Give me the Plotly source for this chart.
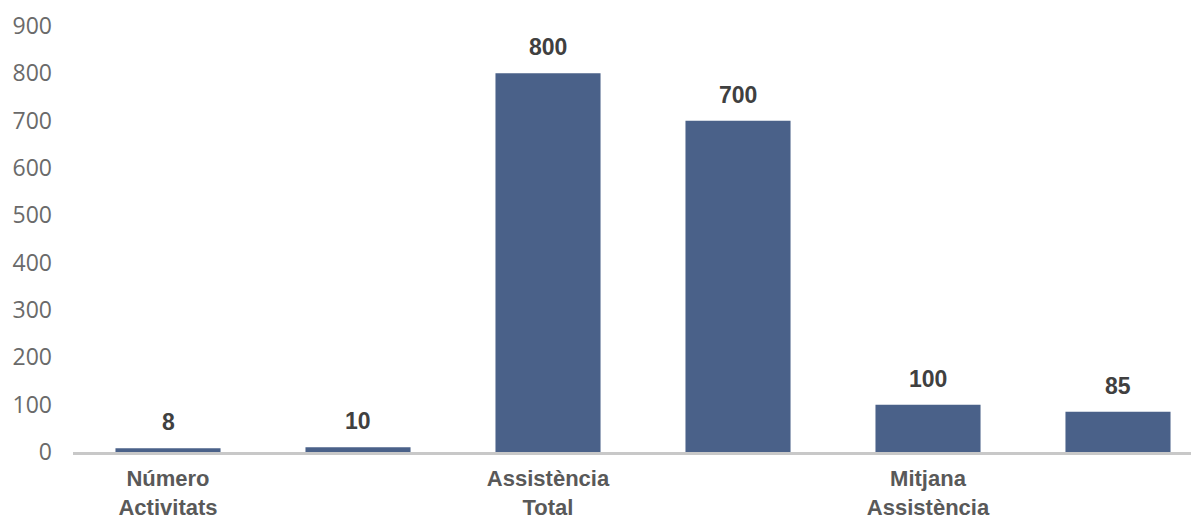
import plotly.graph_objects as go

# Chart data
bar_labels = ["Número Activitats A", "Número Activitats B",
              "Assistència Total A", "Assistència Total B",
              "Mitjana Assistència A", "Mitjana Assistència B"]
values = [8, 10, 800, 700, 100, 85]
group_ticks = ["Número<br>Activitats", "Assistència<br>Total", "Mitjana<br>Assistència"]
y_ticks = [0, 100, 200, 300, 400, 500, 600, 700, 800, 900]

xpos = list(range(len(values)))

fig = go.Figure()
fig.add_trace(go.Bar(
    x=xpos,
    y=values,
    width=0.553,
    marker=dict(color="#4A6189", line=dict(width=0)),
    hovertext=bar_labels,
    showlegend=False,
))

# Value labels above each bar
for x, v in zip(xpos, values):
    fig.add_annotation(
        x=x, y=v, text=f"<b>{v}</b>", showarrow=False,
        yanchor="bottom", yshift=11,
        font=dict(family="Liberation Sans, Arial", size=23, color="#404040"),
    )

# page body has an 8px margin, so the figure is sized a bit smaller
fig.update_layout(
    width=1191, height=512,
    margin=dict(l=65, r=0, t=18, b=66),
    plot_bgcolor="white", paper_bgcolor="white",
    xaxis=dict(
        range=[-0.5, -0.5 + 1126 / 190],
        tickvals=[0, 2, 4],
        ticktext=group_ticks,
        tickfont=dict(family="Liberation Sans, Arial", size=22, color="#595959", weight="bold"),
        showgrid=False, zeroline=False,
        showline=True, linecolor="#C8C8C8", linewidth=3,
        ticks="", ticklabelstandoff=5,
    ),
    yaxis=dict(
        range=[0, 900],
        tickvals=y_ticks,
        tickfont=dict(family="Open Sans, Lato", size=23, color="#6a6a6a"),
        showgrid=False, zeroline=False, showline=False,
        ticks="", ticklabelstandoff=20,
    ),
)

fig.write_html("out.html")
